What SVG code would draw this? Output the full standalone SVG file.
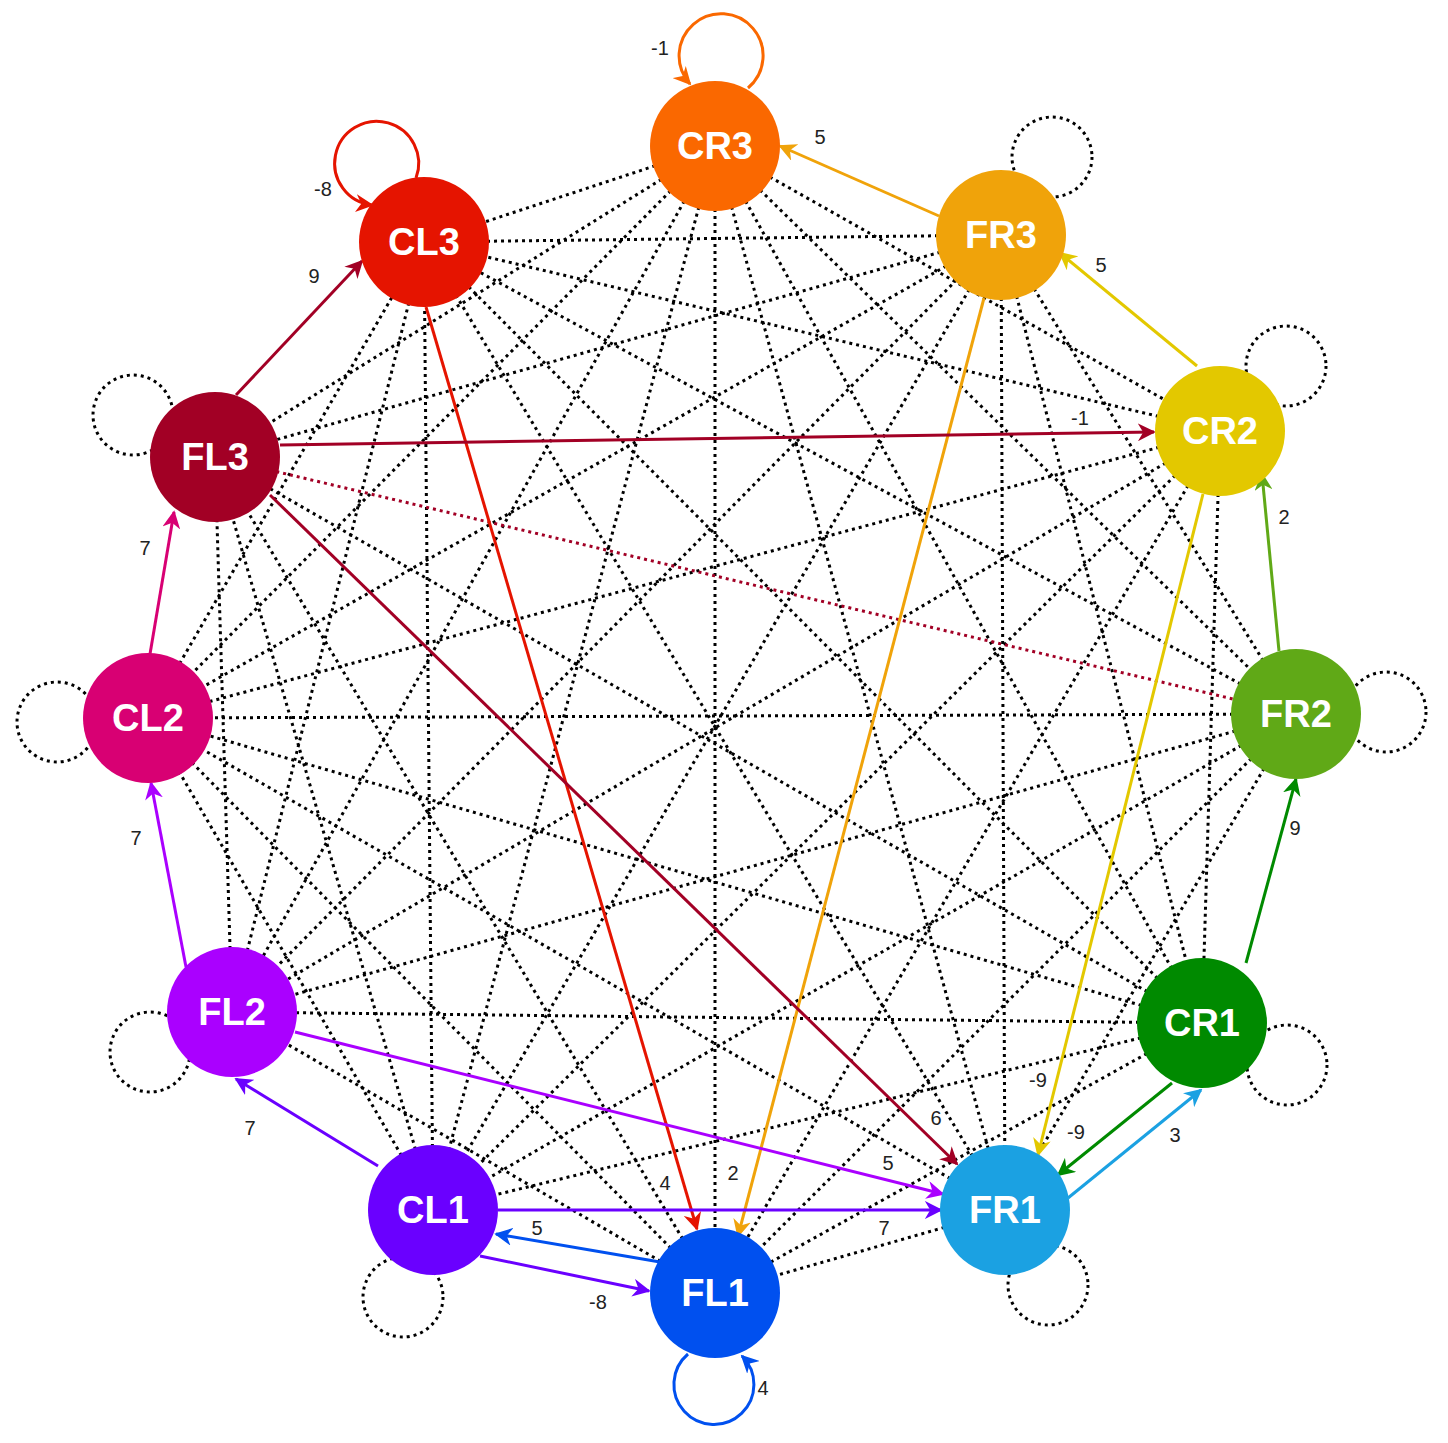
<svg xmlns="http://www.w3.org/2000/svg" width="1448" height="1443" viewBox="0 0 1448 1443">
<style>
.d{stroke:#000;stroke-width:3;stroke-dasharray:3 4;fill:none}
.e{fill:none;stroke-width:3}
.n{font-family:"Liberation Sans",Arial,sans-serif;font-weight:bold;font-size:38px;fill:#fff;text-anchor:middle;dominant-baseline:central}
.l{font-family:"Liberation Sans",Arial,sans-serif;font-size:20px;fill:#222;text-anchor:middle;dominant-baseline:central}
</style>
<defs>
<marker id="mo" viewBox="0 0 10 10" refX="9" refY="5" markerWidth="6" markerHeight="6" orient="auto" markerUnits="strokeWidth"><path d="M0,0L10,5L0,10L3,5Z" fill="#fa6800"/></marker>
<marker id="mr" viewBox="0 0 10 10" refX="9" refY="5" markerWidth="6" markerHeight="6" orient="auto" markerUnits="strokeWidth"><path d="M0,0L10,5L0,10L3,5Z" fill="#e51400"/></marker>
<marker id="mfr3" viewBox="0 0 10 10" refX="9" refY="5" markerWidth="6" markerHeight="6" orient="auto" markerUnits="strokeWidth"><path d="M0,0L10,5L0,10L3,5Z" fill="#f0a30a"/></marker>
<marker id="my" viewBox="0 0 10 10" refX="9" refY="5" markerWidth="6" markerHeight="6" orient="auto" markerUnits="strokeWidth"><path d="M0,0L10,5L0,10L3,5Z" fill="#e3c800"/></marker>
<marker id="mg" viewBox="0 0 10 10" refX="9" refY="5" markerWidth="6" markerHeight="6" orient="auto" markerUnits="strokeWidth"><path d="M0,0L10,5L0,10L3,5Z" fill="#60a917"/></marker>
<marker id="mdg" viewBox="0 0 10 10" refX="9" refY="5" markerWidth="6" markerHeight="6" orient="auto" markerUnits="strokeWidth"><path d="M0,0L10,5L0,10L3,5Z" fill="#008a00"/></marker>
<marker id="mc" viewBox="0 0 10 10" refX="9" refY="5" markerWidth="6" markerHeight="6" orient="auto" markerUnits="strokeWidth"><path d="M0,0L10,5L0,10L3,5Z" fill="#1ba1e2"/></marker>
<marker id="mb" viewBox="0 0 10 10" refX="9" refY="5" markerWidth="6" markerHeight="6" orient="auto" markerUnits="strokeWidth"><path d="M0,0L10,5L0,10L3,5Z" fill="#0050ef"/></marker>
<marker id="mv" viewBox="0 0 10 10" refX="9" refY="5" markerWidth="6" markerHeight="6" orient="auto" markerUnits="strokeWidth"><path d="M0,0L10,5L0,10L3,5Z" fill="#6a00ff"/></marker>
<marker id="mp" viewBox="0 0 10 10" refX="9" refY="5" markerWidth="6" markerHeight="6" orient="auto" markerUnits="strokeWidth"><path d="M0,0L10,5L0,10L3,5Z" fill="#aa00ff"/></marker>
<marker id="mm" viewBox="0 0 10 10" refX="9" refY="5" markerWidth="6" markerHeight="6" orient="auto" markerUnits="strokeWidth"><path d="M0,0L10,5L0,10L3,5Z" fill="#d80073"/></marker>
<marker id="mk" viewBox="0 0 10 10" refX="9" refY="5" markerWidth="6" markerHeight="6" orient="auto" markerUnits="strokeWidth"><path d="M0,0L10,5L0,10L3,5Z" fill="#a20025"/></marker>
</defs>
<g id="connectors">
<g id="dotted">
<line class="d" x1="715" y1="146" x2="1220" y2="431"/><line class="d" x1="715" y1="146" x2="1296" y2="714"/><line class="d" x1="715" y1="146" x2="1202" y2="1023"/><line class="d" x1="715" y1="146" x2="1005" y2="1210"/><line class="d" x1="715" y1="146" x2="715" y2="1293"/><line class="d" x1="715" y1="146" x2="433" y2="1210"/><line class="d" x1="715" y1="146" x2="232" y2="1012"/><line class="d" x1="715" y1="146" x2="148" y2="718"/><line class="d" x1="715" y1="146" x2="215" y2="457"/><line class="d" x1="715" y1="146" x2="424" y2="242"/>
<line class="d" x1="1001" y1="235" x2="1296" y2="714"/><line class="d" x1="1001" y1="235" x2="1202" y2="1023"/><line class="d" x1="1001" y1="235" x2="1005" y2="1210"/><line class="d" x1="1001" y1="235" x2="433" y2="1210"/><line class="d" x1="1001" y1="235" x2="232" y2="1012"/><line class="d" x1="1001" y1="235" x2="148" y2="718"/><line class="d" x1="1001" y1="235" x2="215" y2="457"/><line class="d" x1="1001" y1="235" x2="424" y2="242"/>
<line class="d" x1="1220" y1="431" x2="1202" y2="1023"/><line class="d" x1="1220" y1="431" x2="715" y2="1293"/><line class="d" x1="1220" y1="431" x2="433" y2="1210"/><line class="d" x1="1220" y1="431" x2="232" y2="1012"/><line class="d" x1="1220" y1="431" x2="148" y2="718"/><line class="d" x1="1220" y1="431" x2="424" y2="242"/>
<line class="d" x1="1296" y1="714" x2="1005" y2="1210"/><line class="d" x1="1296" y1="714" x2="715" y2="1293"/><line class="d" x1="1296" y1="714" x2="433" y2="1210"/><line class="d" x1="1296" y1="714" x2="232" y2="1012"/><line class="d" x1="1296" y1="714" x2="148" y2="718"/><line class="d" x1="1296" y1="714" x2="424" y2="242"/>
<line class="d" x1="1202" y1="1023" x2="715" y2="1293"/><line class="d" x1="1202" y1="1023" x2="433" y2="1210"/><line class="d" x1="1202" y1="1023" x2="232" y2="1012"/><line class="d" x1="1202" y1="1023" x2="148" y2="718"/><line class="d" x1="1202" y1="1023" x2="215" y2="457"/><line class="d" x1="1202" y1="1023" x2="424" y2="242"/>
<line class="d" x1="1005" y1="1210" x2="715" y2="1293"/><line class="d" x1="1005" y1="1210" x2="148" y2="718"/><line class="d" x1="1005" y1="1210" x2="424" y2="242"/>
<line class="d" x1="715" y1="1293" x2="232" y2="1012"/><line class="d" x1="715" y1="1293" x2="148" y2="718"/><line class="d" x1="715" y1="1293" x2="215" y2="457"/>
<line class="d" x1="433" y1="1210" x2="148" y2="718"/><line class="d" x1="433" y1="1210" x2="215" y2="457"/><line class="d" x1="433" y1="1210" x2="424" y2="242"/>
<line class="d" x1="232" y1="1012" x2="215" y2="457"/><line class="d" x1="232" y1="1012" x2="424" y2="242"/>
<line class="d" x1="148" y1="718" x2="424" y2="242"/>
<line class="d" style="stroke:#a20025" x1="215" y1="457" x2="1296" y2="714"/>
<circle class="d" cx="1052" cy="157" r="40"/><circle class="d" cx="1286" cy="366" r="40"/><circle class="d" cx="1386" cy="712" r="40"/><circle class="d" cx="1287" cy="1065" r="40"/><circle class="d" cx="1048" cy="1285" r="40"/><circle class="d" cx="403" cy="1297" r="40"/><circle class="d" cx="150" cy="1052" r="40"/><circle class="d" cx="57" cy="722" r="40"/><circle class="d" cx="133" cy="415" r="40"/>
</g>
<g id="arrows">
<line class="e" stroke="#f0a30a" x1="939" y1="216" x2="780" y2="146" marker-end="url(#mfr3)"/>
<line class="e" stroke="#e3c800" x1="1197" y1="366" x2="1060" y2="253" marker-end="url(#my)"/>
<line class="e" stroke="#60a917" x1="1279" y1="651" x2="1262" y2="474" marker-end="url(#mg)"/>
<line class="e" stroke="#008a00" x1="1246" y1="963" x2="1296" y2="779" marker-end="url(#mdg)"/>
<line class="e" stroke="#008a00" x1="1172" y1="1083" x2="1058" y2="1175" marker-end="url(#mdg)"/>
<line class="e" stroke="#1ba1e2" x1="1068" y1="1198" x2="1201" y2="1090" marker-end="url(#mc)"/>
<line class="e" stroke="#e3c800" x1="1203" y1="494" x2="1038" y2="1155" marker-end="url(#my)"/>
<line class="e" stroke="#f0a30a" x1="984" y1="298" x2="738" y2="1236" marker-end="url(#mfr3)"/>
<line class="e" stroke="#e51400" x1="426" y1="307" x2="697" y2="1229" marker-end="url(#mr)"/>
<line class="e" stroke="#a20025" x1="270" y1="495" x2="957" y2="1164" marker-end="url(#mk)"/>
<line class="e" stroke="#a20025" x1="280" y1="445" x2="1154" y2="432" marker-end="url(#mk)"/>
<line class="e" stroke="#a20025" x1="236" y1="395" x2="362" y2="261" marker-end="url(#mk)"/>
<line class="e" stroke="#d80073" x1="150" y1="654" x2="174" y2="512" marker-end="url(#mm)"/>
<line class="e" stroke="#aa00ff" x1="186" y1="967" x2="151" y2="783" marker-end="url(#mp)"/>
<line class="e" stroke="#aa00ff" x1="295" y1="1032" x2="943" y2="1194" marker-end="url(#mp)"/>
<line class="e" stroke="#6a00ff" x1="378" y1="1166" x2="236" y2="1079" marker-end="url(#mv)"/>
<line class="e" stroke="#6a00ff" x1="498" y1="1210" x2="941" y2="1210" marker-end="url(#mv)"/>
<line class="e" stroke="#6a00ff" x1="480" y1="1256" x2="649" y2="1291" marker-end="url(#mv)"/>
<line class="e" stroke="#0050ef" x1="660" y1="1262" x2="496" y2="1234" marker-end="url(#mb)"/>
<path class="e" stroke="#fa6800" d="M748 88 A42 42 0 1 0 690 84" marker-end="url(#mo)"/>
<path class="e" stroke="#e51400" d="M416 178 A42 42 0 1 0 372 205" marker-end="url(#mr)"/>
<path class="e" stroke="#0050ef" d="M688 1354 A40 40 0 1 0 742 1356" marker-end="url(#mb)"/>
</g>
<g id="labels">
<text class="l" x="660" y="48">-1</text><text class="l" x="323" y="189">-8</text><text class="l" x="820" y="137">5</text><text class="l" x="1101" y="265">5</text><text class="l" x="1284" y="517">2</text><text class="l" x="1295" y="828">9</text><text class="l" x="1076" y="1132">-9</text><text class="l" x="1175" y="1135">3</text><text class="l" x="1038" y="1080">-9</text><text class="l" x="733" y="1173">2</text><text class="l" x="665" y="1183">4</text><text class="l" x="936" y="1118">6</text><text class="l" x="1080" y="418">-1</text><text class="l" x="314" y="276">9</text><text class="l" x="145" y="548">7</text><text class="l" x="136" y="838">7</text><text class="l" x="888" y="1163">5</text><text class="l" x="250" y="1128">7</text><text class="l" x="884" y="1228">7</text><text class="l" x="598" y="1302">-8</text><text class="l" x="537" y="1228">5</text><text class="l" x="763" y="1388">4</text>
</g>
</g>
<g id="CR3"><circle cx="715" cy="146" r="65" fill="#fa6800"/><text class="n" x="715" y="146">CR3</text></g>
<g id="FR3"><circle cx="1001" cy="235" r="65" fill="#f0a30a"/><text class="n" x="1001" y="235">FR3</text></g>
<g id="CR2"><circle cx="1220" cy="431" r="65" fill="#e3c800"/><text class="n" x="1220" y="431">CR2</text></g>
<g id="FR2"><circle cx="1296" cy="714" r="65" fill="#60a917"/><text class="n" x="1296" y="714">FR2</text></g>
<g id="CR1"><circle cx="1202" cy="1023" r="65" fill="#008a00"/><text class="n" x="1202" y="1023">CR1</text></g>
<g id="FR1"><circle cx="1005" cy="1210" r="65" fill="#1ba1e2"/><text class="n" x="1005" y="1210">FR1</text></g>
<g id="FL1"><circle cx="715" cy="1293" r="65" fill="#0050ef"/><text class="n" x="715" y="1293">FL1</text></g>
<g id="CL1"><circle cx="433" cy="1210" r="65" fill="#6a00ff"/><text class="n" x="433" y="1210">CL1</text></g>
<g id="FL2"><circle cx="232" cy="1012" r="65" fill="#aa00ff"/><text class="n" x="232" y="1012">FL2</text></g>
<g id="CL2"><circle cx="148" cy="718" r="65" fill="#d80073"/><text class="n" x="148" y="718">CL2</text></g>
<g id="FL3"><circle cx="215" cy="457" r="65" fill="#a20025"/><text class="n" x="215" y="457">FL3</text></g>
<g id="CL3"><circle cx="424" cy="242" r="65" fill="#e51400"/><text class="n" x="424" y="242">CL3</text></g>
</svg>
